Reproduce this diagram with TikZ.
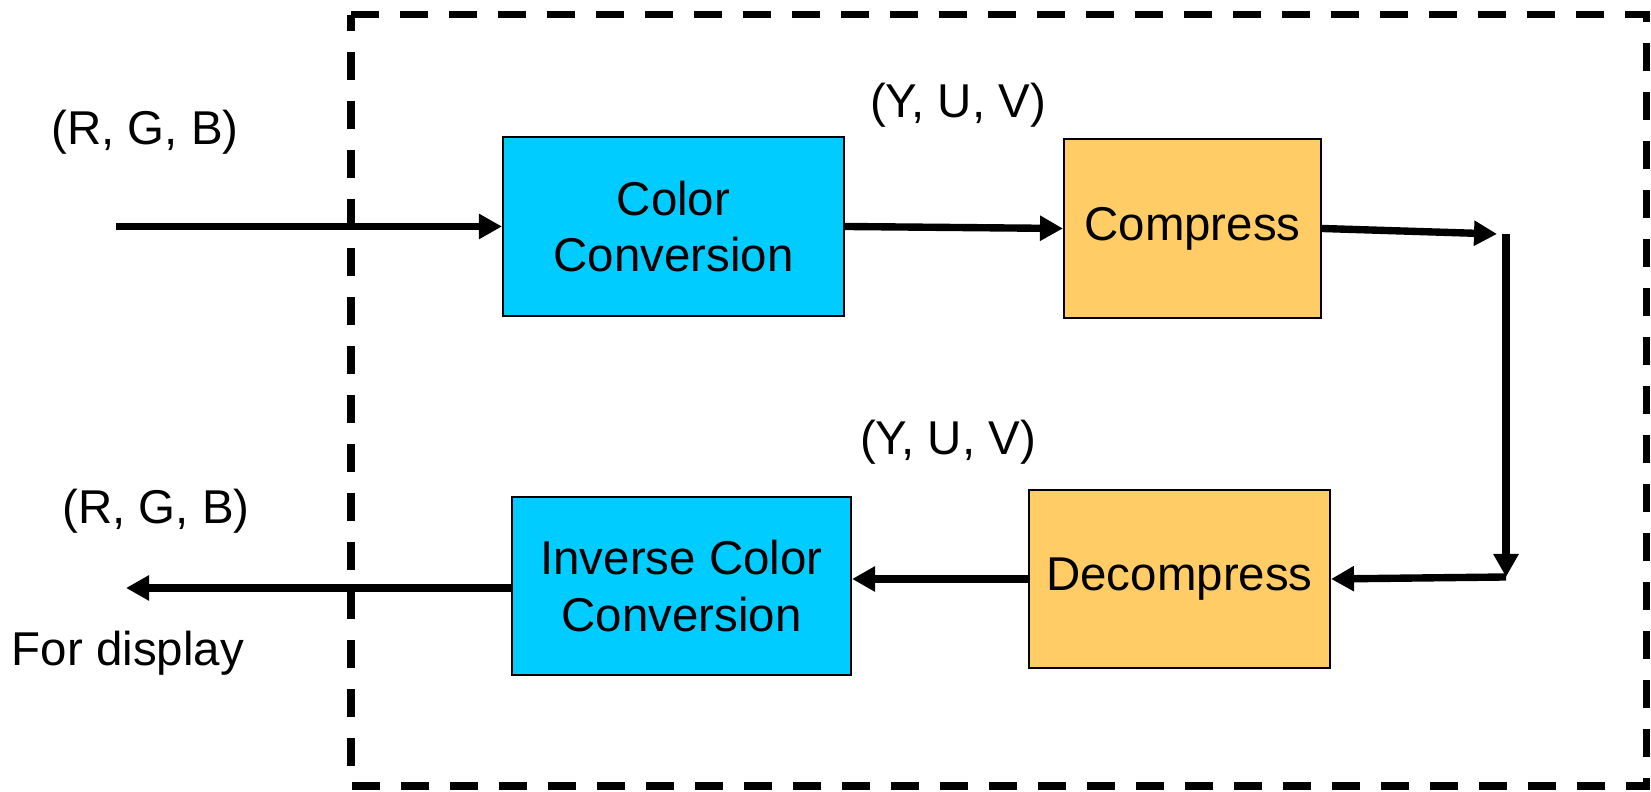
\documentclass[tikz,border=0pt]{standalone}
\usepackage{fontspec}
\setmainfont{Liberation Sans}
\usetikzlibrary{arrows.meta}
\definecolor{convblue}{HTML}{00CCFF}
\definecolor{codeorange}{HTML}{FFCC66}
\begin{document}
\begin{tikzpicture}
[
 font=\fontsize{13.5}{16}\selectfont,
 inner sep=0mm,
 CB/.style={rectangle, draw=black, fill=convblue, line width=0.6pt, align=center},
 CO/.style={rectangle, draw=black, fill=codeorange, line width=0.6pt, align=center},
 LB/.style={rectangle, draw=none},
 arr/.style={line width=2.1pt, -{Triangle[length=0.23cm,width=0.24cm]}},
 sys/.style={line width=2pt, dash pattern=on 0.28cm off 0.21cm}
 ],
 %
\useasboundingbox (0,0) rectangle (16.51,7.92);
\draw [sys] (3.51,7.77) -- (16.46,7.77) -- (16.46,0.06) -- (3.51,0.06) -- cycle;
%
\node [CB, minimum width=3.41cm, minimum height=1.79cm] (CC)  at ( 6.735, 5.655) {Color\\Conversion};
\node [CO, minimum width=2.57cm, minimum height=1.79cm] (Cp)  at (11.925, 5.635) {Compress};
\node [CO, minimum width=3.01cm, minimum height=1.78cm] (Dc)  at (11.795, 2.13)  {Decompress};
\node [CB, minimum width=3.39cm, minimum height=1.78cm] (Inv) at ( 6.815, 2.06)  {Inverse Color\\Conversion};
%
\node [LB] (rgbin)  at ( 1.45, 6.60) {(R, G, B)};
\node [LB] (yuvtop) at ( 9.58, 6.87) {(Y, U, V)};
\node [LB] (yuvbot) at ( 9.48, 3.50) {(Y, U, V)};
\node [LB] (rgbout) at ( 1.56, 2.81) {(R, G, B)};
\node [LB] (disp)   at ( 1.28, 1.39) {For display};
%
\coordinate (src) at ( 1.16, 5.655);
\coordinate (tr)  at (14.97, 5.58);
\coordinate (trv) at (15.06, 5.58);
\coordinate (br)  at (15.06, 2.15);
\coordinate (dst) at ( 1.26, 2.04);
%
\draw [arr] (src) -- (CC.west);
\draw [arr] (CC.east) -- (Cp.west);
\draw [arr] (Cp.east) -- (tr);
\draw [arr] (trv) -- (br);
\draw [arr] (br) -- (Dc.east);
\draw [arr] (Dc.west) -- (Dc.west -| Inv.east);
\draw [arr] (Inv.west |- dst) -- (dst);
%
\end{tikzpicture}
\end{document}
